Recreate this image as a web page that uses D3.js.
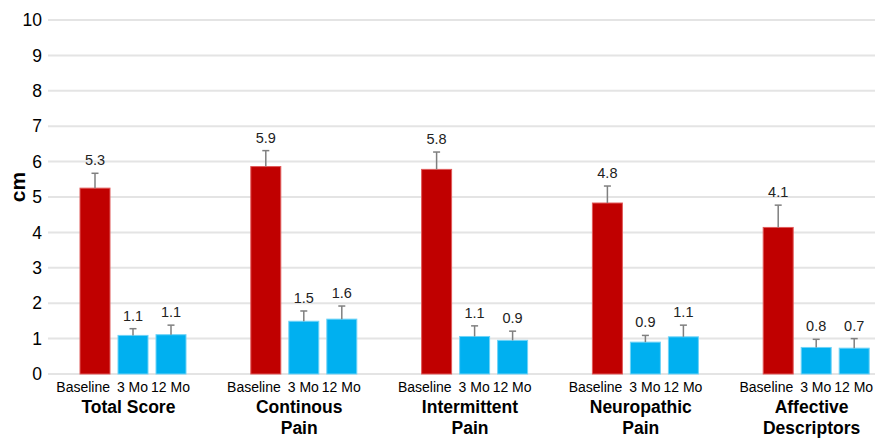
<!DOCTYPE html>
<html>
<head>
<meta charset="utf-8">
<script src="https://cdn.jsdelivr.net/npm/d3@7"></script>
<style>
  body { margin: 0; background: #fff; }
  text { font-family: "Liberation Sans", Arial, sans-serif; fill: #000; }
</style>
</head>
<body>
<div id="chart"></div>
<script>
// chart values
var groups = [["Total Score"], ["Continous", "Pain"], ["Intermittent", "Pain"], ["Neuropathic", "Pain"], ["Affective", "Descriptors"]];
var series = ["Baseline", "3 Mo", "12 Mo"];
var baseline = [5.25, 5.86, 5.78, 4.83, 4.14];
var mo3 = [1.09, 1.49, 1.06, 0.90, 0.75];
var mo12 = [1.11, 1.55, 0.95, 1.05, 0.73];
var errBaseline = [0.42, 0.45, 0.49, 0.48, 0.63];
var errMo3 = [0.19, 0.29, 0.30, 0.19, 0.23];
var errMo12 = [0.27, 0.37, 0.26, 0.33, 0.27];
var labels = [["5.3", "1.1", "1.1"], ["5.9", "1.5", "1.6"], ["5.8", "1.1", "0.9"], ["4.8", "0.9", "1.1"], ["4.1", "0.8", "0.7"]];
var yTicks = [0, 1, 2, 3, 4, 5, 6, 7, 8, 9, 10];

var width = 875, height = 438;
var colors = { "Baseline": "#c00000", "3 Mo": "#00b0f0", "12 Mo": "#00b0f0" };
var strokes = { "Baseline": "#e05a5a", "3 Mo": "#6fd3f7", "12 Mo": "#6fd3f7" };

var values = [baseline, mo3, mo12];
var errs = [errBaseline, errMo3, errMo12];
var data = groups.map(function(g, i) {
  return {
    key: g.join(" "),
    lines: g,
    bars: series.map(function(s, j) {
      return { series: s, value: values[j][i], err: errs[j][i], label: labels[i][j] };
    })
  };
});

var svg = d3.select("#chart").append("svg")
    .attr("width", width)
    .attr("height", height);

var y = d3.scaleLinear().domain([0, 10]).range([374, 20]);

var x0 = d3.scaleBand()
    .domain(data.map(function(d) { return d.key; }))
    .range([48, 902]);

var x1 = d3.scaleBand()
    .domain(series)
    .range([32, 138])
    .paddingInner(8 / 38);

function cx(d) { return 48 + x1(d.series) + x1.bandwidth() / 2; }

// grid
svg.append("g")
  .selectAll("line")
  .data(yTicks)
  .enter().append("line")
    .attr("x1", 48)
    .attr("x2", width)
    .attr("y1", function(d) { return y(d); })
    .attr("y2", function(d) { return y(d); })
    .style("stroke", "#e4e4e4")
    .style("stroke-width", 2);

// y axis labels
var yAxis = d3.axisLeft(y).tickValues(yTicks).tickSize(0).tickPadding(0);
var ya = svg.append("g")
    .attr("transform", "translate(42,0)")
    .call(yAxis);
ya.select(".domain").remove();
ya.selectAll("text")
    .style("font-size", "17.5px")
    .style("font-family", "Liberation Sans, Arial, sans-serif")
    .attr("fill", "#000");

svg.append("text")
    .attr("transform", "translate(25,187) rotate(-90)")
    .attr("text-anchor", "middle")
    .style("font-size", "21px")
    .style("font-weight", "bold")
    .text("cm");

var g = svg.selectAll(".group")
  .data(data)
  .enter().append("g")
    .attr("class", "group")
    .attr("transform", function(d) { return "translate(" + (x0(d.key) - 48) + ",0)"; });

g.selectAll("rect")
  .data(function(d) { return d.bars; })
  .enter().append("rect")
    .attr("x", function(d) { return 48 + x1(d.series); })
    .attr("width", x1.bandwidth())
    .attr("y", function(d) { return y(d.value); })
    .attr("height", function(d) { return y(0) - y(d.value); })
    .style("fill", function(d) { return colors[d.series]; })
    .style("stroke", function(d) { return strokes[d.series]; })
    .style("stroke-width", 1);

// error bars
var eb = g.selectAll(".err")
  .data(function(d) { return d.bars; })
  .enter().append("g")
    .attr("class", "err")
    .style("stroke", "#7f7f7f")
    .style("stroke-width", 1.5);

eb.append("line")
    .attr("x1", cx)
    .attr("x2", cx)
    .attr("y1", function(d) { return y(d.value); })
    .attr("y2", function(d) { return y(d.value + d.err); });

eb.append("line")
    .attr("x1", function(d) { return cx(d) - 3.5; })
    .attr("x2", function(d) { return cx(d) + 3.5; })
    .attr("y1", function(d) { return y(d.value + d.err); })
    .attr("y2", function(d) { return y(d.value + d.err); });

// value labels
g.selectAll(".val")
  .data(function(d) { return d.bars; })
  .enter().append("text")
    .attr("class", "val")
    .attr("x", cx)
    .attr("y", function(d) { return y(d.value + d.err) - 8; })
    .attr("text-anchor", "middle")
    .style("font-size", "14.5px")
    .style("fill", "#222")
    .text(function(d) { return d.label; });

// series labels
g.selectAll(".ser")
  .data(function(d) { return d.bars; })
  .enter().append("text")
    .attr("class", "ser")
    .attr("x", function(d) {
      return d.series === "Baseline" ? 48 + x1(d.series) + x1.bandwidth() : cx(d) - 0.5;
    })
    .attr("y", 392)
    .attr("text-anchor", function(d) { return d.series === "Baseline" ? "end" : "middle"; })
    .style("font-size", "14px")
    .text(function(d) { return d.series; });

// group labels
g.append("text")
    .attr("x", 48 + x0.bandwidth() / 2 - 5)
    .attr("y", 413)
    .attr("text-anchor", "middle")
    .style("font-size", "17.5px")
    .style("font-weight", "bold")
  .selectAll("tspan")
  .data(function(d) { return d.lines; })
  .enter().append("tspan")
    .attr("x", 48 + x0.bandwidth() / 2 - 5)
    .attr("dy", function(d, i) { return i === 0 ? 0 : 21; })
    .text(function(d) { return d; });
</script>
</body>
</html>
